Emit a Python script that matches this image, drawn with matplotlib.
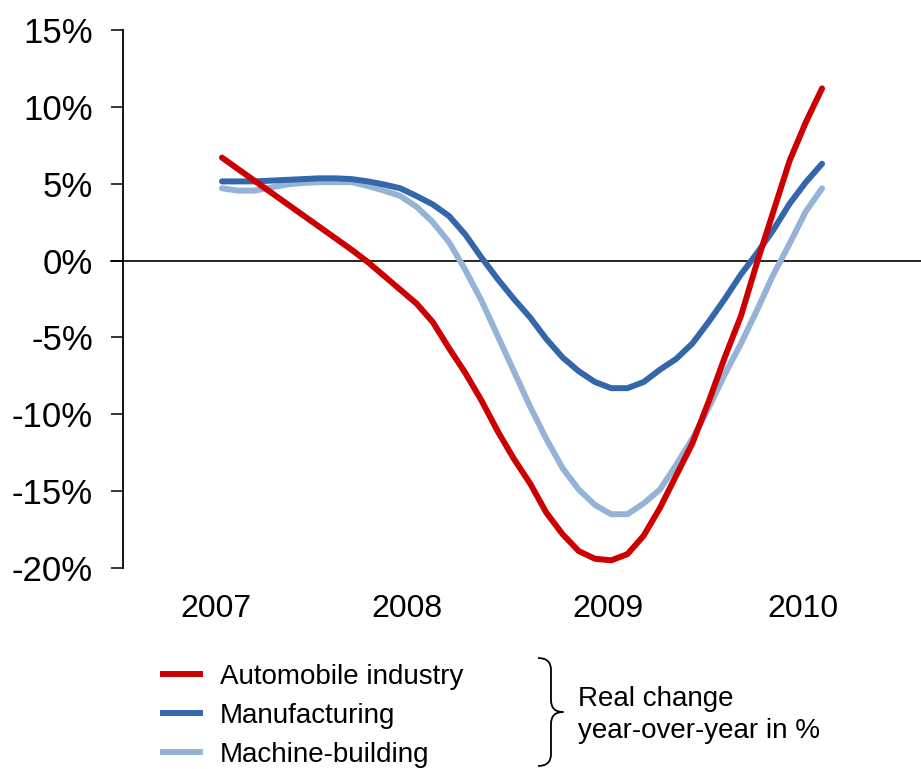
import numpy as np
import matplotlib
matplotlib.use('Agg')
import matplotlib.pyplot as plt
from matplotlib.path import Path
from matplotlib.patches import PathPatch

plt.rcParams['font.family'] = ['Liberation Sans', 'DejaVu Sans']

# Datos: meses desde enero 2007 (0) hasta febrero 2010 (37)
months = np.arange(38)

automobile = [6.7, 5.95, 5.2, 4.45, 3.7, 2.95, 2.2, 1.45, 0.7, -0.1,
              -1.0, -1.9, -2.8, -4.0, -5.7, -7.3, -9.1, -11.1, -12.9, -14.5,
              -16.4, -17.8, -18.9, -19.4, -19.5, -19.1, -17.9, -16.1, -14.0, -11.9,
              -9.2, -6.3, -3.6, -0.1, 3.2, 6.5, 9.0, 11.2]

manufacturing = [5.15, 5.15, 5.15, 5.2, 5.25, 5.3, 5.35, 5.35, 5.3, 5.15,
                 4.95, 4.7, 4.2, 3.65, 2.9, 1.7, 0.2, -1.2, -2.5, -3.7,
                 -5.1, -6.3, -7.2, -7.9, -8.3, -8.3, -7.9, -7.1, -6.4, -5.4,
                 -4.0, -2.5, -0.9, 0.5, 2.0, 3.7, 5.1, 6.3]

machine_building = [4.7, 4.55, 4.55, 4.75, 4.95, 5.05, 5.1, 5.1, 5.1, 4.85,
                    4.55, 4.2, 3.5, 2.5, 1.2, -0.6, -2.6, -4.9, -7.2, -9.5,
                    -11.6, -13.5, -14.9, -15.9, -16.5, -16.5, -15.8, -14.9, -13.3, -11.6,
                    -9.6, -7.4, -5.4, -3.2, -0.9, 1.1, 3.2, 4.7]

years = ['2007', '2008', '2009', '2010']
year_pos = [-0.4, 11.4, 23.8, 35.8]
y_ticks = [15, 10, 5, 0, -5, -10, -15, -20]

labels = ['Automobile industry', 'Manufacturing', 'Machine-building']
colors = ['#CC0000', '#3466AA', '#95B3D7']

W, H = 921, 769
fig = plt.figure(figsize=(W / 100, H / 100), dpi=100)

# Ejes principales (en pixeles)
ax = fig.add_axes([123 / W, (H - 568) / H, (W - 123) / W, (568 - 30) / H])
ax.set_xlim(-6.1, 43.1)
ax.set_ylim(-20, 15)

for s in ['top', 'right', 'bottom']:
    ax.spines[s].set_visible(False)
ax.spines['left'].set_linewidth(1.3)

ax.set_yticks(y_ticks)
ax.set_yticklabels([f'{v}%' for v in y_ticks], fontsize=25)
ax.tick_params(axis='y', length=8.6, width=1.1, pad=13)

ax.set_xticks(year_pos)
ax.set_xticklabels(years, fontsize=23)
ax.tick_params(axis='x', length=0, pad=19)

ax.axhline(0, color='black', lw=1.2, xmin=-0.015, clip_on=False, zorder=1)

series = [automobile, manufacturing, machine_building]
lines = []
# dibujamos de atras hacia adelante
for vals, c, lab, z in zip(series, colors, labels, [4, 3, 2]):
    ln, = ax.plot(months, vals, color=c, lw=4.3, label=lab, zorder=z,
                  solid_capstyle='round', solid_joinstyle='round')
    lines.append(ln)

leg = fig.legend(handles=lines, labels=labels, loc='upper left',
                 bbox_to_anchor=(160 / W, 1 - 664 / H), frameon=False,
                 fontsize=20, handlelength=1.55, handletextpad=0.6,
                 labelspacing=0.46, borderpad=0, borderaxespad=0)
for h in leg.get_lines():
    h.set_linewidth(4.3)
    h.set_solid_capstyle('butt')

# Capa para la llave y el texto (coordenadas en pixeles)
ov = fig.add_axes([0, 0, 1, 1])
ov.set_xlim(0, W)
ov.set_ylim(H, 0)
ov.axis('off')

x0, x1, xt = 538, 551, 563
yt, yb, ym = 658, 766, 712
verts = [(x0, yt), (x1, yt), (x1, yt + 12),
         (x1, ym - 12), (x1, ym), (xt, ym),
         (x1, ym), (x1, ym + 12),
         (x1, yb - 12), (x1, yb), (x0, yb)]
codes = [Path.MOVETO, Path.CURVE3, Path.CURVE3,
         Path.LINETO, Path.CURVE3, Path.CURVE3,
         Path.CURVE3, Path.CURVE3,
         Path.LINETO, Path.CURVE3, Path.CURVE3]
ov.add_patch(PathPatch(Path(verts, codes), fill=False, lw=1.3,
                       edgecolor='black', joinstyle='round'))

ov.text(578, 715, 'Real change\nyear-over-year in %', fontsize=20,
        va='center', ha='left', linespacing=1.3)

fig.savefig('out.png', dpi=100)
